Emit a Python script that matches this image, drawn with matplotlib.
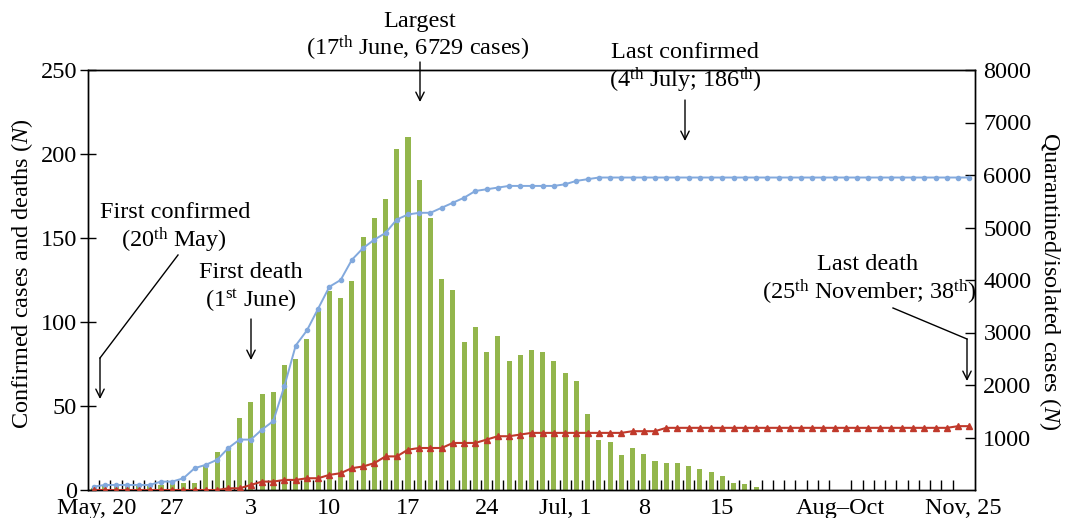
import matplotlib
matplotlib.use('Agg')
import matplotlib.pyplot as plt
from matplotlib.lines import Line2D
import numpy as np

plt.rcParams['font.family'] = ['Liberation Serif', 'DejaVu Serif']
plt.rcParams['mathtext.fontset'] = 'custom'
plt.rcParams['mathtext.rm'] = 'Liberation Serif'
plt.rcParams['mathtext.it'] = 'Liberation Serif:italic'
plt.rcParams['mathtext.bf'] = 'Liberation Serif:bold'

# ---------------- data ----------------
# daily quarantined/isolated cases (right axis)
quarantined = [30, 70, 70, 80, 80, 70, 100, 139, 139, 139,
               457, 730, 781, 1377, 1676, 1829, 1867, 2381, 2496, 2877,
               3410, 3791, 3663, 3981, 4825, 5182, 5544, 6496, 6729, 5906,
               5182, 4020, 3810, 2819, 3105, 2629, 2934, 2457, 2572, 2667,
               2629, 2457, 2229, 2076, 1448, 953, 914, 667, 800, 686,
               552, 514, 514, 457, 400, 343, 267, 133, 114, 63] + [0] * 19
# cumulative confirmed cases (left axis)
confirmed = [2, 3, 3, 3, 3, 3, 5, 5, 7, 13,
             15, 18, 25, 30, 30, 36, 41, 62, 86, 95,
             108, 121, 125, 137, 144, 149, 153, 161, 164, 165,
             165, 168, 171, 174, 178, 179, 180, 181, 181, 181,
             181, 181, 182, 184, 185] + [186] * 34
# cumulative deaths (left axis)
deaths = [0] * 12 + [1, 1, 3, 5, 5, 6, 6, 7, 7, 9,
                     10, 13, 14, 16, 20, 20, 24, 25, 25, 25,
                     28, 28, 28, 30, 32, 32, 33, 34] + [34] * 8 + [35, 35, 35] + [37] * 26 + [38, 38]

tick_labels = ["May, 20", "27", "3", "10", "17", "24", "Jul, 1", "8", "15", "Aug\u2013Oct", "Nov, 25"]
tick_index = [0.3, 7, 14, 21, 28, 35, 42, 49, 56, 66.5, 77.5]
left_ticks = [0, 50, 100, 150, 200, 250]
right_ticks = [1000, 2000, 3000, 4000, 5000, 6000, 7000, 8000]

# ---------------- figure ----------------
W, H = 1067, 518
fig = plt.figure(figsize=(W / 100, H / 100), dpi=100)
ax = fig.add_axes([88 / W, 1 - 490 / H, 887 / W, 420 / H])
ax2 = ax.twinx()
ax.set_zorder(2)
ax2.set_zorder(1)
ax.patch.set_visible(False)

x = np.arange(len(quarantined))
ax2.bar(x, quarantined, width=0.45, color='#93B64C', zorder=1)
ax2.set_ylim(0, 8000)

ax.plot(x, confirmed, color='#82A9DD', lw=1.4, marker='o', ms=3, zorder=3)
ax.plot(x, deaths, color='#C0392B', lw=1.5, marker='^', ms=4.6, zorder=4)
ax.set_ylim(0, 250)
ax.set_xlim(-0.5, len(quarantined) - 0.5)

FS = 17.5
ax.set_yticks(left_ticks)
ax.tick_params(axis='y', direction='inout', length=12, width=1, labelsize=FS, pad=2)
ax2.set_yticks(right_ticks)
ax2.tick_params(axis='y', direction='in', length=7, width=1, labelsize=FS, pad=6)
ax.set_xticks(tick_index)
ax.set_xticklabels(tick_labels)
ax.tick_params(axis='x', which='major', length=0, pad=6, labelsize=FS)
ax.set_xticks(np.arange(0.5, len(quarantined) - 0.5, 1), minor=True)
ax.tick_params(axis='x', which='minor', direction='in', length=7, width=1)

for a in (ax, ax2):
    for s in a.spines.values():
        s.set_linewidth(1)
        s.set_color('black')

def fx(px):
    return px / W

def fy(py):
    return 1 - py / H

fig.text(fx(22), fy(274), 'Confirmed cases and deaths ($\\mathit{N}$)', rotation=90,
         ha='center', va='center', fontsize=FS)
fig.text(fx(1050), fy(281), 'Quarantined/isolated cases ($\\mathit{N}$)', rotation=270,
         ha='center', va='center', fontsize=FS)

def txt(px, py, s):
    fig.text(fx(px), fy(py), s, ha='center', va='center', fontsize=FS)

def arrow(px, py0, py1):
    ax.annotate('', xy=(fx(px), fy(py1)), xytext=(fx(px), fy(py0)),
                xycoords='figure fraction', textcoords='figure fraction',
                arrowprops=dict(arrowstyle='->,head_length=0.6,head_width=0.3',
                                lw=1, color='black', shrinkA=0, shrinkB=0),
                annotation_clip=False)

def seg(p0, p1):
    fig.add_artist(Line2D([fx(p0[0]), fx(p1[0])], [fy(p0[1]), fy(p1[1])],
                          transform=fig.transFigure, color='black', lw=1))

txt(420, 22, 'Largest')
txt(418, 48, '(17$^{\\mathrm{th}}$ June, 6729 cases)')
arrow(420, 62, 102)

txt(685, 53, 'Last confirmed')
txt(685, 80, '(4$^{\\mathrm{th}}$ July; 186$^{\\mathrm{th}}$)')
arrow(685, 100, 141)

txt(175, 213, 'First confirmed')
txt(174, 240, '(20$^{\\mathrm{th}}$ May)')
seg((178, 255), (100, 358))
arrow(100, 358, 399)

txt(251, 273, 'First death')
txt(251, 301, '(1$^{\\mathrm{st}}$ June)')
arrow(251, 319, 360)

txt(868, 264, 'Last death')
txt(869, 292, '(25$^{\\mathrm{th}}$ November; 38$^{\\mathrm{th}}$)')
seg((893, 308), (967, 339))
arrow(967, 339, 381)

fig.savefig('out.png', dpi=100)
